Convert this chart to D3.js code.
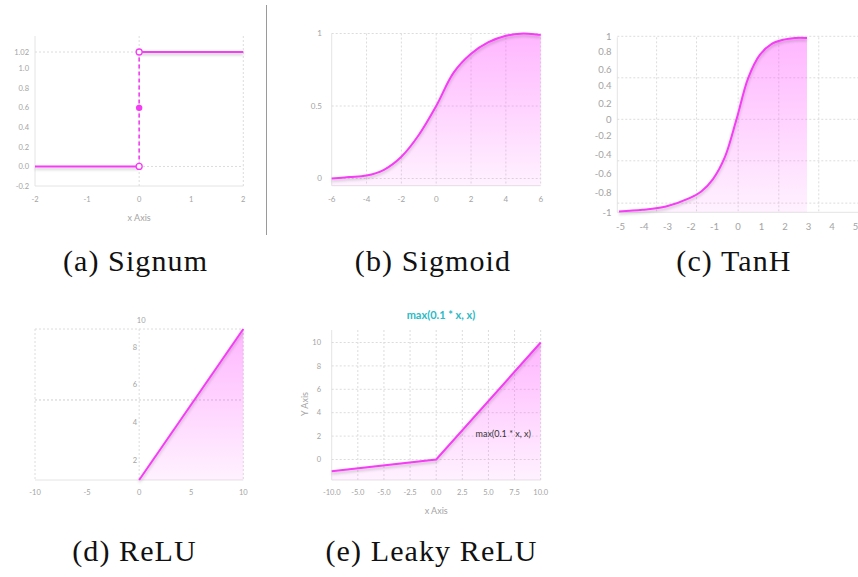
<!DOCTYPE html>
<html>
<head>
<meta charset="utf-8">
<script src="https://cdn.jsdelivr.net/npm/d3@7/dist/d3.min.js"></script>
<style>
  body { margin: 0; background: #fff; }
  svg { display: block; background: #fff; }
  .tick-label { font-family: Lato, "Open Sans", sans-serif; fill: #a3a3a3; }
  .caption { font-family: "Liberation Serif", "DejaVu Serif", serif; fill: #111; }
</style>
</head>
<body>
<script>
// ---------------- DATA ----------------
// (a) Signum
const signumXTicks = [-2, -1, 0, 1, 2];
const signumYTicks = [-0.2, 0.0, 0.2, 0.4, 0.6, 0.8, 1.0, 1.02];
const signumYLabels = ["-0.2", "0.0", "0.2", "0.4", "0.6", "0.8", "1.0", "1.02"];
const signumLowX = [-2, 0];
const signumLowY = [0, 0];
const signumHighX = [0, 2];
const signumHighY = [1.02, 1.02];
const signumMidValue = 0.6;

// (b) Sigmoid
const sigmoidX = [-6, -5, -4, -3, -2, -1, 0, 1, 2, 3, 4, 5, 6];
const sigmoidY = [0, 0.01, 0.02, 0.06, 0.15, 0.3, 0.5, 0.73, 0.86, 0.94, 0.985, 1.0, 0.99];
const sigmoidXTicks = [-6, -4, -2, 0, 2, 4, 6];
const sigmoidYTicks = [0, 0.5, 1];
const sigmoidYLabels = ["0", "0.5", "1"];

// (c) TanH
const tanhX = [-5, -4, -3, -2, -1.5, -1, -0.5, 0, 0.5, 1, 1.5, 2, 2.5, 3];
const tanhY = [-1.11, -1.09, -1.05, -0.95, -0.87, -0.72, -0.46, 0, 0.5, 0.78, 0.91, 0.96, 0.98, 0.98];
const tanhXTicks = [-5, -4, -3, -2, -1, 0, 1, 2, 3, 4, 5];
const tanhYTickPos = [1, 0.81, 0.6, 0.4, 0.19, 0, -0.2, -0.43, -0.66, -0.88, -1.12];
const tanhYLabels = ["1", "0.8", "0.6", "0.4", "0.2", "0", "-0.2", "-0.4", "-0.6", "-0.8", "-1"];
const tanhXGrid = [-3.4, -1.7, 0.07, 1.8, 3.5];
const tanhYGrid = [1, 0.5, 0, -0.5, -1.01];

// (d) ReLU
const reluX = [0, 10];
const reluY = [0, 10];
const reluXTicks = [-10, -5, 0, 5, 10];
const reluYTickPos = [1.28, 3.8, 6.3, 8.8, 10.55];
const reluYLabels = ["2", "4", "6", "8", "10"];
const reluYGrid = [5.3];

// (e) Leaky ReLU
const leakyX = [-10, 0, 10];
const leakyY = [-1, 0, 10];
const leakyXTicks = [-10, -7.5, -5, -2.5, 0, 2.5, 5, 7.5, 10];
const leakyXLabels = ["-10.0", "-5.0", "-5.0", "-2.5", "0.0", "2.5", "5.0", "7.5", "10.0"];
const leakyYTicks = [0, 2, 4, 6, 8, 10];
const leakyTitle = "max(0.1 * x, x)";

// Captions
const captions = ["(a) Signum", "(b) Sigmoid", "(c) TanH", "(d) ReLU", "(e) Leaky ReLU"];

// ---------------- DRAWING ----------------
const MAG = "#f53cf5";
const GRID = "#dcdcdc";
const BORDER = "#e4e4e4";

const svg = d3.select("body").append("svg").attr("width", 858).attr("height", 577);
const defs = svg.append("defs");
const grad = defs.append("linearGradient").attr("id", "fillGrad")
  .attr("x1", 0).attr("y1", 0).attr("x2", 0).attr("y2", 1);
grad.append("stop").attr("offset", "0%").attr("stop-color", "#ff40ff").attr("stop-opacity", 0.38);
grad.append("stop").attr("offset", "100%").attr("stop-color", "#ff40ff").attr("stop-opacity", 0.07);
const filt = defs.append("filter").attr("id", "shadow").attr("filterUnits", "userSpaceOnUse")
  .attr("x", 0).attr("y", 0).attr("width", 858).attr("height", 577);
filt.append("feDropShadow").attr("dx", 0).attr("dy", 2).attr("stdDeviation", 1.4)
  .attr("flood-color", "#000").attr("flood-opacity", 0.22);

function hLine(g, x1, x2, y, color, dash) {
  g.append("line").attr("x1", x1).attr("x2", x2).attr("y1", y).attr("y2", y)
    .attr("stroke", color).attr("stroke-width", 1).attr("stroke-dasharray", dash || null);
}
function vLine(g, x, y1, y2, color, dash) {
  g.append("line").attr("x1", x).attr("x2", x).attr("y1", y1).attr("y2", y2)
    .attr("stroke", color).attr("stroke-width", 1).attr("stroke-dasharray", dash || null);
}
function label(g, x, y, text, size, anchor, color, weight) {
  return g.append("text").attr("class", "tick-label").attr("x", x).attr("y", y)
    .attr("text-anchor", anchor || "middle").attr("font-size", size)
    .attr("font-weight", weight || null)
    .style("fill", color || null).text(text);
}
function drawCurve(g, xs, ys, sx, sy, y0, curve) {
  const pts = xs.map((x, i) => [x, ys[i]]);
  const area = d3.area().x(d => sx(d[0])).y0(y0).y1(d => sy(d[1])).curve(curve);
  const line = d3.line().x(d => sx(d[0])).y(d => sy(d[1])).curve(curve);
  g.append("path").attr("d", area(pts)).attr("fill", "url(#fillGrad)");
  g.append("path").attr("d", line(pts)).attr("fill", "none").attr("stroke", MAG)
    .attr("stroke-width", 2).attr("filter", "url(#shadow)");
}

// ---- (a) Signum ----
{
  const g = svg.append("g");
  const x = d3.scaleLinear([-2, 2], [35, 243.3]);
  const y = d3.scaleLinear([-0.2, 1.0, 1.02, 1.18], [186, 68.8, 52, 36]);
  vLine(g, x(-2), y(1.18), y(-0.2), BORDER);
  hLine(g, x(-2), x(2), y(-0.2), BORDER);
  [0, 1.02].forEach(v => hLine(g, x(-2), x(2), y(v), GRID, "2,2"));
  [0, 2].forEach(v => vLine(g, x(v), y(1.18), y(-0.2), GRID, "2,2"));
  signumYTicks.forEach((v, i) => label(g, 29, y(v) + 2.6, signumYLabels[i], 7.5, "end"));
  signumXTicks.forEach(v => label(g, x(v), 202, String(v), 7.5));
  label(g, x(0), 221, "x Axis", 9);
  const line = d3.line().x(d => x(d[0])).y(d => y(d[1]));
  g.append("path").attr("d", line(signumLowX.map((v, i) => [v, signumLowY[i]])))
    .attr("stroke", MAG).attr("stroke-width", 2).attr("fill", "none").attr("filter", "url(#shadow)");
  g.append("path").attr("d", line(signumHighX.map((v, i) => [v, signumHighY[i]])))
    .attr("stroke", MAG).attr("stroke-width", 2).attr("fill", "none").attr("filter", "url(#shadow)");
  g.append("path").attr("d", line([[0, signumLowY[1]], [0, signumHighY[0]]]))
    .attr("stroke", MAG).attr("stroke-width", 1.6).attr("stroke-dasharray", "4,3").attr("fill", "none");
  g.append("circle").attr("cx", x(0)).attr("cy", y(signumLowY[1])).attr("r", 3)
    .attr("fill", "#fff").attr("stroke", MAG).attr("stroke-width", 1.3);
  g.append("circle").attr("cx", x(0)).attr("cy", y(signumHighY[0])).attr("r", 3)
    .attr("fill", "#fff").attr("stroke", MAG).attr("stroke-width", 1.3);
  g.append("circle").attr("cx", x(0)).attr("cy", y(signumMidValue)).attr("r", 3.2).attr("fill", MAG);
}

// separator
svg.append("line").attr("x1", 266.5).attr("x2", 266.5).attr("y1", 5).attr("y2", 235)
  .attr("stroke", "#9a9a9a").attr("stroke-width", 1);

// ---- (b) Sigmoid ----
{
  const g = svg.append("g");
  const x = d3.scaleLinear([-6, 6], [331.7, 540.7]);
  const y = d3.scaleLinear([0, 1], [178.5, 33.5]);
  const bottom = 185.7;
  vLine(g, x(-6), y(1), bottom, BORDER);
  hLine(g, x(-6), x(6), bottom, BORDER);
  sigmoidXTicks.slice(1).forEach(v => vLine(g, x(v), y(1), bottom, GRID, "2,2"));
  sigmoidYTicks.forEach(v => hLine(g, x(-6), x(6), y(v), GRID, "2,2"));
  drawCurve(g, sigmoidX, sigmoidY, x, y, bottom, d3.curveCatmullRom.alpha(0.5));
  sigmoidYTicks.forEach((v, i) => label(g, 322, y(v) + 2.8, sigmoidYLabels[i], 8, "end"));
  sigmoidXTicks.forEach(v => label(g, x(v), 202, String(v), 8));
}

// ---- (c) TanH ----
{
  const g = svg.append("g");
  const x = d3.scaleLinear([-5, 3], [619, 807]);
  const y = d3.scaleLinear([0, 1], [119.3, 36.3]);
  const left = 617.3, right = 858, top = 37.3, bottom = 212.3;
  vLine(g, left, top, bottom, BORDER);
  hLine(g, left, right, bottom, BORDER);
  tanhXGrid.forEach(v => vLine(g, x(v), top, bottom, GRID, "2,2"));
  tanhYGrid.forEach(v => hLine(g, left, right, y(v), GRID, "2,2"));
  drawCurve(g, tanhX, tanhY, x, y, bottom, d3.curveCatmullRom.alpha(0.5));
  tanhYTickPos.forEach((v, i) => label(g, 611.5, y(v) + 3.3, tanhYLabels[i], 9.5, "end"));
  tanhXTicks.forEach(v => label(g, x(v) + 1.5, 230, String(v), 9.5));
}

// ---- (d) ReLU ----
{
  const g = svg.append("g");
  const x = d3.scaleLinear([-10, 10], [35, 243.3]);
  const y = d3.scaleLinear([0, 10], [480, 329]);
  vLine(g, x(-10), y(10), y(0), GRID, "2,2");
  vLine(g, x(10), y(10), y(0), GRID, "2,2");
  vLine(g, x(0), y(10), y(0), GRID, "2,2");
  hLine(g, x(-10), x(10), y(10), GRID, "2,2");
  reluYGrid.forEach(v => hLine(g, x(-10), x(10), y(v), "#cfcfcf", "2,2"));
  hLine(g, x(-10), x(10), y(0), BORDER);
  drawCurve(g, reluX, reluY, x, y, y(0), d3.curveLinear);
  reluYTickPos.forEach((v, i) => label(g, i === reluYLabels.length - 1 ? x(0) + 2 : x(0) - 2, y(v) + 2.6,
    reluYLabels[i], 7.5, i === reluYLabels.length - 1 ? "middle" : "end"));
  reluXTicks.forEach(v => label(g, x(v), 495, String(v), 7.5));
}

// ---- (e) Leaky ReLU ----
{
  const g = svg.append("g");
  const x = d3.scaleLinear([-10, 10], [331.7, 540.7]);
  const y = d3.scaleLinear([0, 10], [459.5, 342.5]);
  const top = 330, bottom = 480;
  vLine(g, x(-10), top, bottom, BORDER);
  hLine(g, x(-10), x(10), bottom, BORDER);
  leakyXTicks.slice(1).forEach(v => vLine(g, x(v), top, bottom, GRID, "2,2"));
  leakyYTicks.forEach(v => hLine(g, x(-10), x(10), y(v), GRID, "2,2"));
  drawCurve(g, leakyX, leakyY, x, y, bottom, d3.curveLinear);
  leakyYTicks.forEach(v => label(g, 321, y(v) + 2.6, String(v), 7.5, "end"));
  leakyXTicks.forEach((v, i) => label(g, x(v), 495, leakyXLabels[i], 7.5));
  label(g, x(0), 513.5, "x Axis", 9);
  label(g, 0, 0, "Y Axis", 9).attr("transform", "translate(308,404) rotate(-90)");
  label(g, 441, 319, leakyTitle, 11, "middle", "#2bbac6", "bold");
  label(g, 475.5, 436.5, leakyTitle, 9, "start", "#333333");
}

// ---- Captions ----
const capPos = [[135.5, 271], [433, 271], [734, 271], [134.5, 561], [431.5, 561]];
captions.forEach((c, i) => {
  svg.append("text").attr("class", "caption").attr("x", capPos[i][0]).attr("y", capPos[i][1])
    .attr("text-anchor", "middle").attr("font-size", 30).attr("letter-spacing", 1.1).text(c);
});
</script>
</body>
</html>
